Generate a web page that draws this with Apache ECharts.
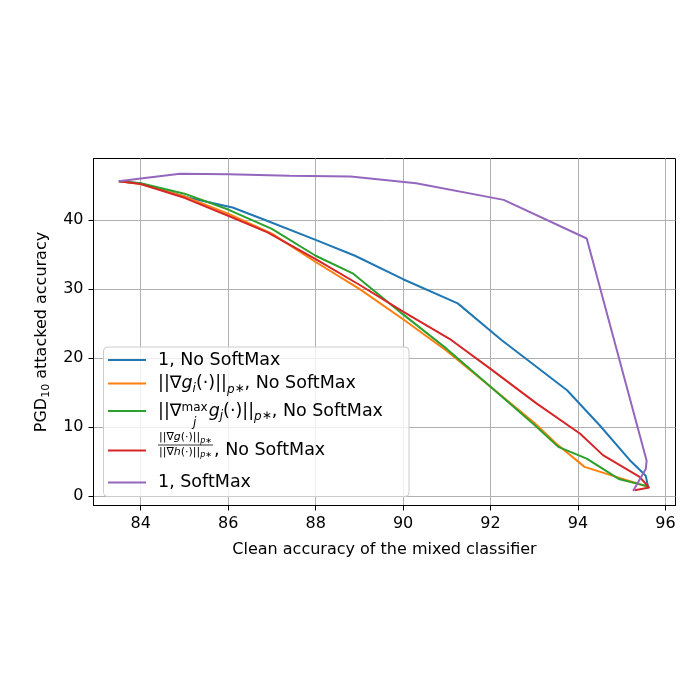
<!DOCTYPE html>
<html>
<head>
<meta charset="utf-8">
<title>PGD10 vs clean accuracy</title>
<script src="https://cdn.jsdelivr.net/npm/echarts@6/dist/echarts.min.js"></script>
<style>
  html, body { margin: 0; padding: 0; background: #fff; }
  #main { width: 700px; height: 700px; }
</style>
</head>
<body>
<div id="main"></div>
<script>
// data: [clean accuracy, PGD10 accuracy]
var noSoftmax1 = [[83.5,45.6],[84.0,45.3],[85.1,43.2],[86.1,41.8],[86.8,40.1],[88.0,37.1],[88.9,34.8],[90.0,31.4],[91.25,27.9],[92.25,22.6],[93.75,15.3],[94.5,10.2],[95.18,5.2],[95.55,2.9],[95.6,1.4]];
var gradGi = [[83.5,45.6],[84.0,45.2],[85.0,43.4],[86.0,40.9],[87.0,38.0],[88.0,33.9],[89.0,30.0],[90.0,25.6],[91.0,21.0],[92.0,15.8],[93.0,10.6],[93.5,7.6],[94.15,4.2],[94.8,2.9],[95.3,1.9],[95.6,1.3]];
var gradMaxGj = [[83.5,45.6],[84.0,45.3],[85.0,43.8],[86.0,41.5],[87.0,38.7],[88.0,34.8],[88.86,32.2],[90.0,26.3],[91.0,21.3],[92.0,15.8],[93.0,10.3],[93.55,7.1],[94.2,5.4],[94.95,2.4],[95.4,1.7],[95.6,1.4]];
var gradRatio = [[83.5,45.6],[84.0,45.2],[85.0,43.2],[86.0,40.6],[86.9,38.2],[88.0,34.3],[89.0,30.6],[90.0,26.7],[91.1,22.6],[92.0,18.4],[93.05,13.4],[94.05,9.0],[94.57,5.9],[95.4,2.8],[95.63,1.2],[95.3,0.8]];
var softmax1 = [[83.5,45.6],[84.0,46.0],[84.9,46.7],[86.0,46.6],[87.4,46.4],[88.8,46.3],[90.3,45.3],[92.3,42.9],[94.2,37.3],[95.57,5.1],[95.55,3.9],[95.26,0.7]];

var xTicks = [84, 86, 88, 90, 92, 94, 96];
var yTicks = [0, 10, 20, 30, 40];
var colors = ['#1f77b4', '#ff7f0e', '#2ca02c', '#d62728', '#9467bd'];

var FONT = '"DejaVu Sans", sans-serif';
var ctx = document.createElement('canvas').getContext('2d');
function fnt(size, it) { return (it ? 'italic ' : '') + size + 'px ' + FONT; }
function measure(t, size, it) { ctx.font = fnt(size, it); return ctx.measureText(t).width; }
function txt(t, x, y, size, it, align) {
  return { type: 'text', z: 102, silent: true,
    style: { text: t, x: x, y: y, font: fnt(size, it), fill: '#000', verticalAlign: 'middle', align: align || 'left' } };
}
// lay out a run of text pieces left to right, returns end x
function run(parts, x, cy, out) {
  parts.forEach(function (p) {
    out.push(txt(p.t, x + (p.dx || 0), cy + (p.dy || 0), p.s, p.i));
    if (p.adv !== false) x += measure(p.t, p.s, p.i);
  });
  return x;
}
function runWidth(parts) {
  var w = 0;
  parts.forEach(function (p) { if (p.adv !== false) w += measure(p.t, p.s, p.i); });
  return w;
}

var B = 17.5, S = 12, F = 11, FS = 8;
var tx = 158, rows = [360, 383.5, 411, 450.5, 482.5];
var legendEls = [];
legendEls.push({ type: 'rect', z: 100, silent: true,
  shape: { x: 103.5, y: 347, width: 305.5, height: 149.5, r: 4 },
  style: { fill: 'rgba(255,255,255,0.8)', stroke: '#cccccc', lineWidth: 1 } });
rows.forEach(function (y, k) {
  legendEls.push({ type: 'line', z: 101, silent: true,
    shape: { x1: 108, y1: y, x2: 146, y2: y },
    style: { stroke: colors[k], lineWidth: 2 } });
});
// row 1
run([{ t: '1, No SoftMax', s: B }], tx, rows[0], legendEls);
// row 2
run([{ t: '||∇', s: B }, { t: 'g', s: B, i: true }, { t: 'i', s: S, i: true, dy: 5 },
     { t: '(·)||', s: B }, { t: 'p', s: S, i: true, dy: 6 }, { t: '∗', s: S, dy: 5 },
     { t: ', No SoftMax', s: B }], tx, rows[1], legendEls);
// row 3
(function () {
  var x = run([{ t: '||∇', s: B }], tx, rows[2], legendEls);
  var wm = measure('max', S), wj = measure('j', S, true);
  legendEls.push(txt('max', x, rows[2] - 3, S));
  legendEls.push(txt('j', x + (wm - wj) / 2, rows[2] + 12, S, true));
  x += wm + 1;
  run([{ t: 'g', s: B, i: true }, { t: 'j', s: S, i: true, dy: 5 },
       { t: '(·)||', s: B }, { t: 'p', s: S, i: true, dy: 6 }, { t: '∗', s: S, dy: 5 },
       { t: ', No SoftMax', s: B }], x, rows[2], legendEls);
})();
// row 4: fraction
(function () {
  var num = [{ t: '||∇', s: F }, { t: 'g', s: F, i: true }, { t: '(·)||', s: F }, { t: 'p', s: FS, i: true, dy: 3 }, { t: '∗', s: FS, dy: 3 }];
  var den = [{ t: '||∇', s: F }, { t: 'h', s: F, i: true }, { t: '(·)||', s: F }, { t: 'p', s: FS, i: true, dy: 3 }, { t: '∗', s: FS, dy: 3 }];
  var wn = runWidth(num), wd = runWidth(den), w = Math.max(wn, wd) + 2;
  var cy = rows[3];
  run(num, tx + (w - wn) / 2, cy - 13, legendEls);
  run(den, tx + (w - wd) / 2, cy + 1.5, legendEls);
  legendEls.push({ type: 'line', z: 101, silent: true,
    shape: { x1: tx, y1: cy - 5.5, x2: tx + w, y2: cy - 5.5 }, style: { stroke: '#000', lineWidth: 0.8 } });
  run([{ t: ', No SoftMax', s: B }], tx + w + 1, cy, legendEls);
})();
// row 5
run([{ t: '1, SoftMax', s: B }], tx, rows[4], legendEls);

var chart = echarts.init(document.getElementById('main'), null, { renderer: 'canvas' });
function mk(name, data, i) {
  return { name: name, type: 'line', data: data, showSymbol: false, symbol: 'none',
    lineStyle: { color: colors[i], width: 2 }, itemStyle: { color: colors[i] }, z: 3 + i, animation: false };
}
chart.setOption({
  animation: false,
  backgroundColor: '#fff',
  textStyle: { fontFamily: FONT },
  grid: { left: 93.5, right: 24.5, top: 158.5, bottom: 194.5, show: true, borderColor: '#000', borderWidth: 1, backgroundColor: 'transparent', containLabel: false },
  xAxis: {
    type: 'value', min: 82.92, max: 96.23,
    name: 'Clean accuracy of the mixed classifier', nameLocation: 'middle', nameGap: 36,
    nameTextStyle: { fontSize: 16, color: '#000', fontFamily: FONT },
    axisLine: { show: true, onZero: false, lineStyle: { color: '#000', width: 1 } },
    axisTick: { show: true, length: 5, customValues: xTicks, lineStyle: { color: '#000' } },
    axisLabel: { customValues: xTicks, fontSize: 16, color: '#000', margin: 10, fontFamily: FONT },
    splitLine: { show: true, customValues: xTicks, lineStyle: { color: '#b0b0b0', width: 1 } }
  },
  yAxis: {
    type: 'value', min: -1.4, max: 48.9,
    name: '{a|PGD}{s|10}{a| attacked accuracy}', nameLocation: 'middle', nameGap: 42, nameRotate: 90,
    nameTextStyle: { color: '#000', rich: {
      a: { fontSize: 16, fontFamily: FONT, color: '#000', lineHeight: 20 },
      s: { fontSize: 11, fontFamily: FONT, color: '#000', lineHeight: 13, verticalAlign: 'bottom' } } },
    axisLine: { show: true, onZero: false, lineStyle: { color: '#000', width: 1 } },
    axisTick: { show: true, length: 5, customValues: yTicks, lineStyle: { color: '#000' } },
    axisLabel: { customValues: yTicks, fontSize: 16, color: '#000', margin: 10, fontFamily: FONT },
    splitLine: { show: true, customValues: yTicks, lineStyle: { color: '#b0b0b0', width: 1 } }
  },
  series: [
    mk('1, No SoftMax', noSoftmax1, 0),
    mk('||∇g_i(·)||_p*, No SoftMax', gradGi, 1),
    mk('||∇max_j g_j(·)||_p*, No SoftMax', gradMaxGj, 2),
    mk('||∇g(·)||_p* / ||∇h(·)||_p*, No SoftMax', gradRatio, 3),
    mk('1, SoftMax', softmax1, 4)
  ],
  graphic: legendEls
});
</script>
</body>
</html>
